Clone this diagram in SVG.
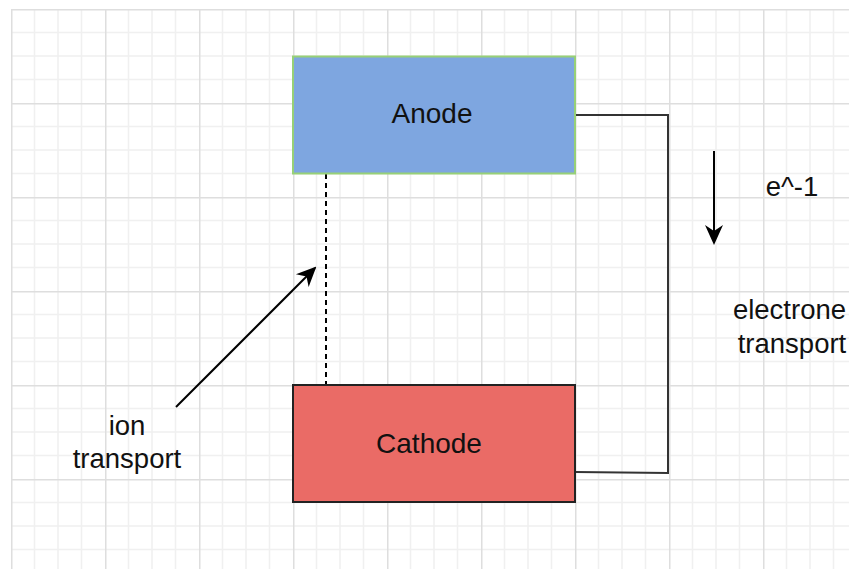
<svg xmlns="http://www.w3.org/2000/svg" width="849" height="569" viewBox="0 0 849 569">
<style>
.lbl{font-family:"Liberation Sans",Arial,sans-serif;font-size:27.5px;fill:#111;text-anchor:middle}
.node{font-size:28px}
.wire{fill:none;stroke:#333;stroke-width:2}
</style>
<defs>
<pattern id="grid" x="11" y="9" width="94" height="94" patternUnits="userSpaceOnUse">
<path d="M23.5 0V94M47 0V94M70.5 0V94M0 23.5H94M0 47H94M0 70.5H94" stroke="#f0f0f0" stroke-width="1.5" fill="none"/>
<path d="M0.75 0V94M0 0.75H94" stroke="#dedede" stroke-width="1.5" fill="none"/>
</pattern>
<marker id="arrBig" viewBox="0 0 10 10" refX="9" refY="5" markerWidth="20" markerHeight="20" markerUnits="userSpaceOnUse" orient="auto">
<path d="M0 0.5L10 5L0 9.5L3 5Z" fill="#000"/>
</marker>
</defs>
<rect width="849" height="569" fill="#fff"/>
<rect x="11" y="9" width="838" height="560" fill="url(#grid)"/>
<g id="connectors">
<path class="wire" d="M575 115H668V473L575 472"/>
<path d="M326 174V384" stroke="#000" stroke-width="2" stroke-dasharray="5 4" fill="none"/>
<path d="M176 407L315 268" stroke="#000" stroke-width="2" fill="none" marker-end="url(#arrBig)"/>
<path d="M714 151V243" stroke="#000" stroke-width="2" fill="none" marker-end="url(#arrBig)"/>
</g>
<g id="anode">
<rect x="293" y="56.5" width="282" height="117" fill="#7EA6E0" stroke="#97D077" stroke-width="2"/>
<text class="lbl node" x="432" y="123">Anode</text>
</g>
<g id="cathode">
<rect x="293" y="385" width="282" height="117" fill="#EA6B66" stroke="#222" stroke-width="2"/>
<text class="lbl node" x="429" y="452.5">Cathode</text>
</g>
<g id="label-e">
<text class="lbl" x="792" y="196">e^-1</text>
</g>
<g id="label-electrone">
<text class="lbl" x="789.5" y="319">electrone</text>
<text class="lbl" x="792" y="353">transport</text>
</g>
<g id="label-ion">
<text class="lbl" x="127" y="435">ion</text>
<text class="lbl" x="127" y="468">transport</text>
</g>
</svg>
